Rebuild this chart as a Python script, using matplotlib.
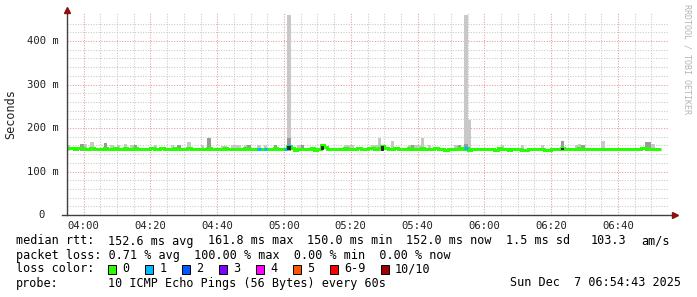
import matplotlib
matplotlib.use('Agg')
import matplotlib.pyplot as plt
from matplotlib.patches import Rectangle
import numpy as np

# ---- data ----
start_time = "03:55"   # first sample, one sample per minute

median_rtt = [
    153, 153, 152, 153, 153, 152, 152, 153, 152, 152,
    152, 153, 152, 152, 153, 152, 152, 153, 152, 152,
    153, 152, 152, 152, 152, 153, 152, 152, 153, 152,
    152, 152, 153, 152, 152, 152, 153, 152, 152, 152,
    152, 152, 153, 152, 152, 152, 152, 153, 152, 152,
    152, 152, 152, 153, 152, 152, 152, 151, 152, 151,
    152, 152, 153, 152, 152, 152, 158, 153, 150, 152,
    152, 152, 152, 153, 150, 152, 160, 157, 152, 152,
    152, 152, 152, 153, 152, 152, 152, 153, 152, 152,
    153, 153, 152, 153, 158, 153, 152, 152, 153, 152,
    152, 152, 153, 152, 152, 152, 153, 152, 152, 152,
    153, 152, 152, 150, 152, 152, 152, 153, 152, 153,
    150, 151, 151, 152, 151, 151, 152, 151, 150, 153,
    151, 151, 150, 151, 151, 152, 150, 150, 151, 151,
    151, 152, 151, 150, 150, 151, 151, 151, 153, 152,
    152, 152, 152, 153, 152, 152, 152, 152, 152, 151,
    152, 152, 152, 152, 152, 152, 151, 152, 152, 152,
    152, 152, 153, 153, 152, 151, 151, 152,
]

# light smoke (max ping) where it shows above the median line
smoke_times = ["03:55", "03:59", "04:00", "04:02", "04:06", "04:08", "04:10", "04:12",
               "04:14", "04:15", "04:21", "04:26", "04:28", "04:31", "04:35", "04:37",
               "04:41", "04:42", "04:44", "04:45", "04:46", "04:48", "04:49", "04:52",
               "04:54", "04:57", "05:01", "05:04", "05:05", "05:18", "05:19", "05:20",
               "05:26", "05:27", "05:28", "05:32", "05:37", "05:38", "05:39", "05:40",
               "05:41", "05:43", "05:51", "05:52", "05:54", "05:55", "06:05", "06:11",
               "06:17", "06:23", "06:27", "06:28", "06:29", "06:35", "06:48", "06:49",
               "06:50"]
smoke_top = [161, 163, 163, 168, 165, 161, 160, 163,
             161, 161, 161, 161, 161, 168, 161, 177,
             159, 159, 161, 161, 161, 161, 161, 161,
             161, 161, 460, 161, 162, 161, 161, 161,
             162, 162, 177, 170, 161, 162, 161, 162,
             177, 161, 161, 161, 460, 218, 161, 161,
             161, 170, 162, 163, 162, 170, 167, 167,
             163]

# darker smoke band
dark_times = ["03:59", "04:06", "04:15", "04:28", "04:37", "04:49", "04:57", "05:01",
              "05:05", "05:38", "05:52", "05:54", "06:23", "06:29", "06:48", "06:49"]
dark_top = [163, 165, 161, 161, 177, 161, 161, 177,
            162, 162, 161, 163, 170, 162, 167, 167]

# darkest smoke (black bits at the median)
deep_times = ["05:01", "05:11", "05:29", "06:23"]
deep_low = [150, 150, 148, 150]
deep_high = [158, 158, 158, 155]

# samples with packet loss (bucket index into loss_colors)
loss_times = ["04:52", "04:54", "05:00", "05:01", "05:54"]
loss_bucket = [1, 1, 1, 1, 1]

loss_labels = ["0", "1", "2", "3", "4", "5", "6-9", "10/10"]
loss_colors = ["#26ff00", "#00b8ff", "#0059ff", "#7e00ff", "#ff00ff", "#ff5500", "#ff0000", "#a10000"]

x_tick_labels = ["04:00", "04:20", "04:40", "05:00", "05:20", "05:40", "06:00", "06:20", "06:40"]
y_ticks = [0, 100, 200, 300, 400]
y_tick_labels = ["0", "100 m", "200 m", "300 m", "400 m"]


def to_min(s):
    h, m = s.split(':')
    return int(h) * 60 + int(m) - 240   # minutes after 04:00


W, H = 697, 297
plt.rcParams['font.family'] = 'DejaVu Sans Mono'

fig = plt.figure(figsize=(W / 100, H / 100), dpi=100)
fig.patch.set_facecolor('white')
ax = fig.add_axes([67 / W, (H - 215) / H, 601 / W, 203 / H])
ax.set_xlim(-5, 175)
ax.set_ylim(0, 466.7)
ax.set_facecolor('white')

# grid
for v in range(-5, 176, 5):
    major = v % 20 == 0
    ax.axvline(v, color='#e89a9a' if major else '#c8c8c8', lw=0.75,
               ls=(0, (1, 1.5)), zorder=0)
for h in range(20, 460, 20):
    major = h % 100 == 0
    ax.axhline(h, color='#e89a9a' if major else '#c8c8c8', lw=0.75,
               ls=(0, (1, 1.5)), zorder=0)

# smoke
floor = 148
sx = [to_min(t) for t in smoke_times]
ax.bar(sx, np.array(smoke_top) - floor, bottom=floor, width=1, align='edge',
       color='#c8c8c8', linewidth=0, zorder=2)
dx = [to_min(t) for t in dark_times]
ax.bar(dx, np.array(dark_top) - floor, bottom=floor, width=1, align='edge',
       color='#9a9a9a', linewidth=0, zorder=2)

# median line
t0 = to_min(start_time)
edges = np.arange(t0, t0 + len(median_rtt) + 1)
ax.stairs(median_rtt, edges, baseline=None, color=loss_colors[0], lw=2.2, zorder=3)
for t, b in zip(loss_times, loss_bucket):
    m = to_min(t)
    ax.hlines(median_rtt[m - t0], m, m + 1, color=loss_colors[b], lw=2.2,
              zorder=4, capstyle='butt')
kx = [to_min(t) for t in deep_times]
ax.bar(kx, np.array(deep_high) - np.array(deep_low), bottom=deep_low, width=1,
       align='edge', color='#2a2a2a', linewidth=0, zorder=5)

# axes
for s in ax.spines.values():
    s.set_visible(False)
ax.plot([-5, -5], [0, 471], color='#404040', lw=1, clip_on=False, zorder=6)
ax.plot([-6.5, 176.3], [0, 0], color='#404040', lw=1, clip_on=False, zorder=6)
ax.plot([-5], [471], marker='^', ms=4.5, color='#8b1010', clip_on=False, zorder=7)
ax.plot([177], [0], marker='>', ms=4.5, color='#8b1010', clip_on=False, zorder=7)

ax.set_xticks(range(0, 161, 20), x_tick_labels)
ax.tick_params(axis='x', length=0, pad=4.5, labelsize=7.6, labelcolor='#202020')
ax.set_yticks([])
ytr = ax.get_yaxis_transform()
for v, lab in zip(y_ticks, y_tick_labels):
    if lab == "0":
        ax.text(-22 / 601, v, lab, transform=ytr, ha='right', va='center',
                fontsize=7.6, color='#202020')
    else:
        ax.text(-8 / 601, v, lab, transform=ytr, ha='right', va='center',
                fontsize=7.6, color='#202020')

fig.text(11 / W, 1 - 114 / H, 'Seconds', rotation=90, ha='center', va='center',
         fontsize=8.5, color='#202020')
fig.text(687 / W, 1 - 4 / H, 'RRDTOOL / TOBI OETIKER', rotation=270, ha='center',
         va='top', fontsize=6, color='#b4b4b4')

# legend text
cw = 7.1


def put(col, row_y, s, ha='left'):
    fig.text((16 + col * cw) / W, 1 - row_y / H, s, ha=ha, va='center',
             fontsize=8.5, color='black')


put(0, 241, "median rtt:")
for col, s in zip([13, 27, 41, 55, 69, 81, 88],
                  ["152.6 ms avg", "161.8 ms max", "150.0 ms min", "152.0 ms now",
                   "1.5 ms sd", "103.3", "am/s"]):
    put(col, 241, s)

put(0, 255, "packet loss: 0.71 % avg  100.00 % max  0.00 % min  0.00 % now")

put(0, 269, "loss color:")
box_cols = [13, 18.2, 23.4, 28.6, 33.8, 39, 44.2, 51.4]
for col, lab, c in zip(box_cols, loss_labels, loss_colors):
    x0 = 16 + col * cw
    fig.patches.append(Rectangle((x0 / W, 1 - 273.5 / H), 8 / W, 9 / H,
                                 transform=fig.transFigure, facecolor=c,
                                 edgecolor='black', lw=0.7))
    fig.text((x0 + 14) / W, 1 - 269 / H, lab, ha='left', va='center',
             fontsize=8.5, color='black')

put(0, 283, "probe:")
put(13, 283, "10 ICMP Echo Pings (56 Bytes) every 60s")
fig.text(681 / W, 1 - 283 / H, "Sun Dec  7 06:54:43 2025", ha='right', va='center',
         fontsize=8.5, color='black')

fig.savefig('out.png', dpi=100, facecolor='white')
